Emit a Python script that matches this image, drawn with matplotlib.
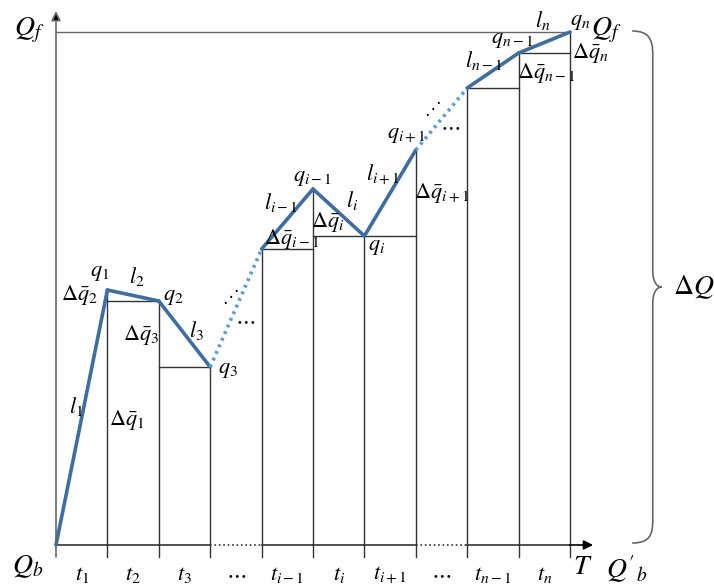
import numpy as np
import matplotlib.pyplot as plt
from matplotlib.path import Path
from matplotlib.patches import PathPatch

plt.rcParams['mathtext.fontset'] = 'stix'
plt.rcParams['font.family'] = ['STIXGeneral', 'DejaVu Sans']

# flow at the end of each period (period index 0..10), Qb = 0
steps = np.arange(11)
flow = [0, 255, 244, 178, 296, 356, 309, 395, 457, 492, 513]
dotted_periods = [3, 7]  # periods drawn as "..." gaps
t_labels = [r'$t_1$', r'$t_2$', r'$t_3$', r'$\cdots$', r'$t_{i-1}$', r'$t_i$',
            r'$t_{i+1}$', r'$\cdots$', r'$t_{n-1}$', r'$t_n$']
Qf = flow[-1]

blue = '#3E6EA0'
light_blue = '#5B9BD5'
grid_c = '#333333'
axis_c = '#666666'

fig = plt.figure(figsize=(7.14, 5.87), dpi=100)
ax = fig.add_axes([0, 0, 1, 1])
ax.set_xlim(-56 / 51.4, (714 - 56) / 51.4)
ax.set_ylim(-42, 545)
ax.axis('off')

# vertical period lines, drawn up to the curve
for k in steps[1:]:
    ax.plot([k, k], [-12, flow[k]], color=grid_c, lw=1)

# horizontal step at the lower end of each solid period
for k in range(1, 10):
    if k in dotted_periods:
        continue
    ax.plot([k, k + 1], [min(flow[k], flow[k + 1])] * 2, color=grid_c, lw=1)

# Qf reference line
ax.plot([0, 10], [Qf, Qf], color=axis_c, lw=1)

# time axis (dotted under skipped periods)
for k in range(10):
    ls = ':' if k in dotted_periods else '-'
    ax.plot([k, k + 1], [0, 0], color=grid_c, lw=1.2, ls=ls)
ax.annotate('', xy=(10.45, 0), xytext=(9.99, 0),
            arrowprops=dict(arrowstyle='-|>', color='black', lw=1.2,
                            mutation_scale=14, shrinkA=0, shrinkB=0))
# flow axis
ax.annotate('', xy=(0, 534), xytext=(0, -12),
            arrowprops=dict(arrowstyle='-|>', color='black', lw=1.2,
                            mutation_scale=14, shrinkA=0, shrinkB=0,
                            ec=axis_c, fc='black'))

# cumulative flow curve
for k in range(10):
    if k in dotted_periods:
        ax.plot([k, k + 1], [flow[k], flow[k + 1]], color=light_blue, lw=2.6,
                ls=(0, (0.8, 1.2)), solid_capstyle='butt')
    else:
        ax.plot([k, k + 1], [flow[k], flow[k + 1]], color=blue, lw=2.6,
                solid_capstyle='round')

# brace for delta Q
verts = [(11.21, 514), (11.55, 514), (11.61, 505), (11.61, 490),
         (11.61, 275),
         (11.61, 262), (11.70, 258), (11.79, 258),
         (11.70, 258), (11.61, 254), (11.61, 241),
         (11.61, 25),
         (11.61, 10), (11.55, 2), (11.21, 2)]
codes = [Path.MOVETO, Path.CURVE4, Path.CURVE4, Path.CURVE4,
         Path.LINETO,
         Path.CURVE4, Path.CURVE4, Path.CURVE4,
         Path.CURVE4, Path.CURVE4, Path.CURVE4,
         Path.LINETO,
         Path.CURVE4, Path.CURVE4, Path.CURVE4]
ax.add_patch(PathPatch(Path(verts, codes), fc='none', ec=axis_c, lw=1.2))

# axis labels
big = 20
sm = 16
ax.text(-0.52, 515, r'$Q_f$', fontsize=big, ha='center', va='center')
ax.text(-0.55, -22, r'$Q_b$', fontsize=big, ha='center', va='center')
ax.text(10.25, -22, r'$T$', fontsize=big, ha='center', va='center',
        family='Liberation Serif', style='italic')
ax.text(11.1, -24, r"$Q'_b$", fontsize=big, ha='center', va='center')
ax.text(10.7, 515, r'$Q_f$', fontsize=big, ha='center', va='center')
ax.text(12.4, 258, r'$\Delta Q$', fontsize=big, ha='center', va='center')
for k, lab in enumerate(t_labels):
    ax.text(k + 0.5, -30, lab, fontsize=sm, ha='center', va='center')

# point / segment labels
labels = [
    (0.84, 272, r'$q_1$'), (1.58, 268, r'$l_2$'), (0.45, 250, r'$\Delta\bar{q}_2$'),
    (2.28, 248, r'$q_2$'), (1.66, 210, r'$\Delta\bar{q}_3$'), (2.74, 214, r'$l_3$'),
    (3.35, 175, r'$q_3$'), (0.40, 138, r'$l_1$'), (1.38, 125, r'$\Delta\bar{q}_1$'),
    (4.98, 367, r'$q_{i-1}$'), (4.38, 343, r'$l_{i-1}$'), (5.76, 345, r'$l_i$'),
    (5.29, 323, r'$\Delta\bar{q}_i$'), (4.58, 306, r'$\Delta\bar{q}_{i-1}$'),
    (6.23, 298, r'$q_i$'), (6.81, 410, r'$q_{i+1}$'), (6.36, 370, r'$l_{i+1}$'),
    (7.50, 352, r'$\Delta\bar{q}_{i+1}$'), (8.31, 485, r'$l_{n-1}$'),
    (8.87, 505, r'$q_{n-1}$'), (9.47, 525, r'$l_n$'), (9.53, 472, r'$\Delta\bar{q}_{n-1}$'),
    (10.2, 523, r'$q_n$'), (10.39, 492, r'$\Delta\bar{q}_n$'),
    (3.68, 224, r'$\cdots$'), (7.66, 418, r'$\cdots$'),
]
for x, y, s in labels:
    ax.text(x, y, s, fontsize=sm, ha='center', va='center')
for x, y in [(3.39, 248), (7.33, 436)]:
    ax.text(x, y, '⋰', fontsize=12, ha='center', va='center',
            family=['DejaVu Sans'])

fig.savefig('out.png', dpi=100)
